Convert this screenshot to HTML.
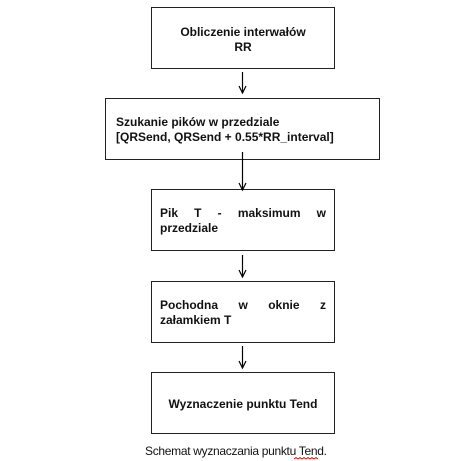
<!DOCTYPE html>
<html><head><meta charset="utf-8"><style>
html,body{margin:0;padding:0;background:#fff;width:468px;height:461px;overflow:hidden;position:relative}
.b{position:absolute;border:1px solid #222;box-sizing:border-box;background:#fff;font:bold 12px "Liberation Sans",sans-serif;color:#111;line-height:15px}
.t{position:absolute}
.j{text-align:justify;text-align-last:left}
</style></head><body>
<div class="b" style="left:151px;top:7px;width:184px;height:62px"><div class="t" style="left:0;right:0;top:17px;text-align:center">Obliczenie interwałów<br>RR</div></div>
<div class="b" style="left:105px;top:98px;width:275px;height:62px"><div class="t" style="left:10px;top:16px;white-space:nowrap">Szukanie pików w przedziale<br>[QRSend, QRSend + 0.55*RR_interval]</div></div>
<div class="b" style="left:151px;top:189px;width:184px;height:62px"><div class="t j" style="left:8px;right:8px;top:16px">Pik T - maksimum w przedziale</div></div>
<div class="b" style="left:151px;top:281px;width:184px;height:62px"><div class="t j" style="left:8px;right:8px;top:16px">Pochodna w oknie z załamkiem T</div></div>
<div class="b" style="left:151px;top:372px;width:184px;height:62px"><div class="t" style="left:0;right:0;top:24px;text-align:center">Wyznaczenie punktu Tend</div></div>
<svg width="468" height="461" style="position:absolute;left:0;top:0" xmlns="http://www.w3.org/2000/svg">
<g stroke="#000" stroke-width="1.2" fill="none">
<line x1="242.5" y1="72" x2="242.5" y2="92"/><polyline points="239,86 242.5,93 246,86"/>
<line x1="242.5" y1="152" x2="242.5" y2="189"/><polyline points="239,183 242.5,190 246,183"/>
<line x1="242.5" y1="255" x2="242.5" y2="276"/><polyline points="239,270 242.5,277 246,270"/>
<line x1="242.5" y1="346" x2="242.5" y2="367"/><polyline points="239,361 242.5,368 246,361"/>
</g>
<path d="M294,459 l2,-1.5 l2,1.5 l2,-1.5 l2,1.5 l2,-1.5 l2,1.5 l2,-1.5 l2,1.5 l2,-1.5 l2,1.5 l2,-1.5 l2,1.5" stroke="#d00" stroke-width="0.8" fill="none"/>
</svg>
<div class="t" style="left:145px;top:444px;font:12px 'Liberation Sans',sans-serif;color:#111;letter-spacing:-0.3px;white-space:nowrap">Schemat wyznaczania punktu Tend.</div>
</body></html>
